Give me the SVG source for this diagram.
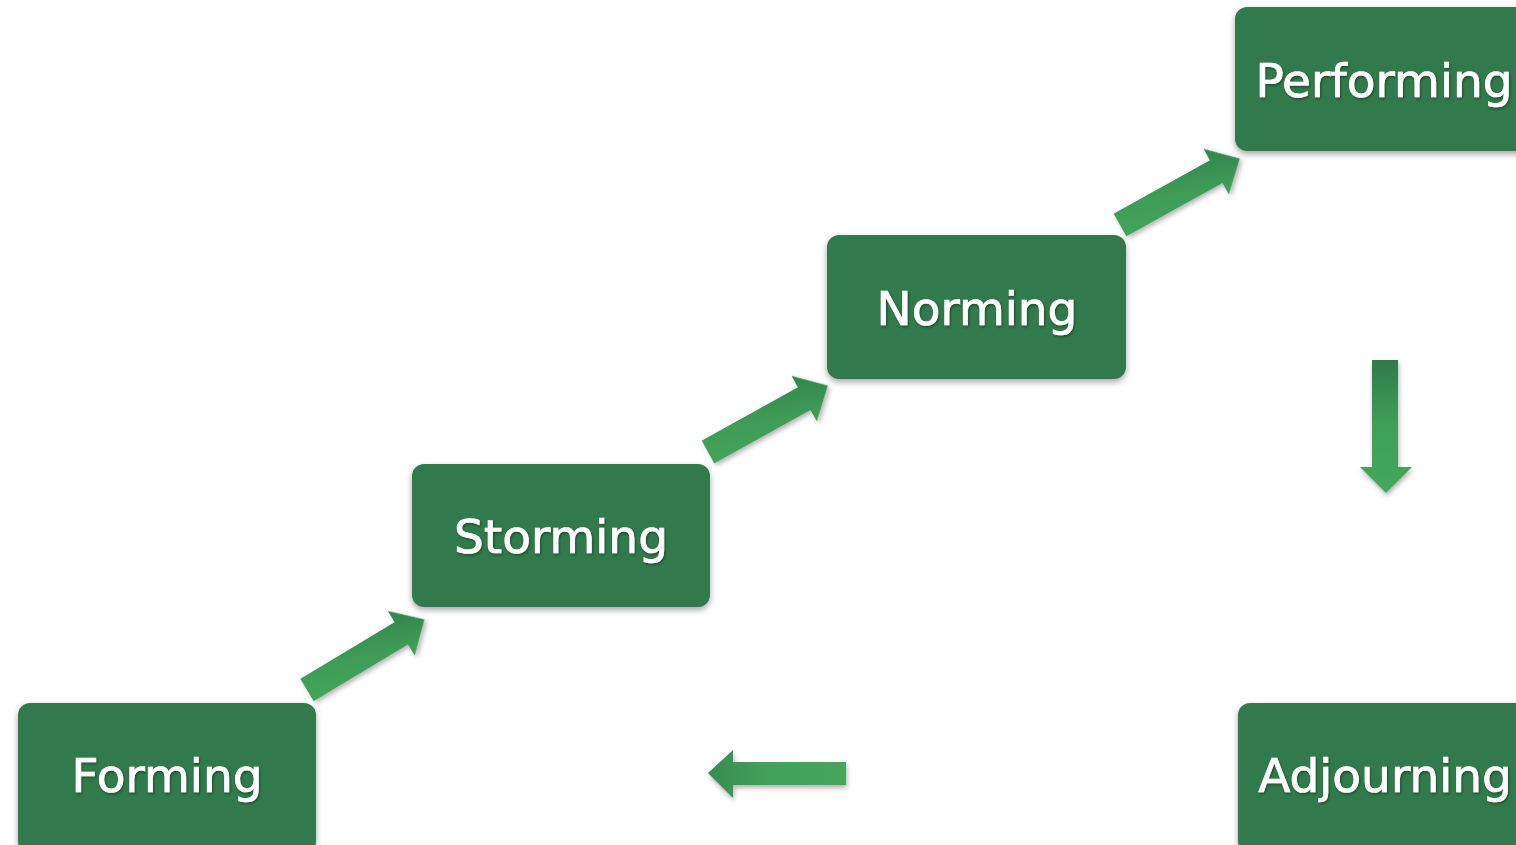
<svg xmlns="http://www.w3.org/2000/svg" width="1516" height="845" viewBox="0 0 1516 845">
  <defs>
    <filter id="shadow" x="-20%" y="-20%" width="140%" height="150%">
      <feDropShadow dx="0" dy="3" stdDeviation="3" flood-color="#000" flood-opacity="0.35"/>
    </filter>
    <filter id="ashadow" x="-30%" y="-30%" width="160%" height="170%">
      <feDropShadow dx="1" dy="3" stdDeviation="2.5" flood-color="#000" flood-opacity="0.3"/>
    </filter>
    <filter id="tshadow" x="-10%" y="-20%" width="120%" height="150%">
      <feDropShadow dx="1" dy="1.5" stdDeviation="0.8" flood-color="#0a2a14" flood-opacity="0.6"/>
    </filter>
    <linearGradient id="gDiag" x1="1" y1="0" x2="0" y2="1">
      <stop offset="0" stop-color="#2f7d4b"/>
      <stop offset="0.5" stop-color="#3f9b57"/>
      <stop offset="1" stop-color="#45a65c"/>
    </linearGradient>
    <linearGradient id="gDown" x1="0" y1="0" x2="0" y2="1">
      <stop offset="0" stop-color="#2f7a4a"/>
      <stop offset="0.5" stop-color="#40a058"/>
      <stop offset="1" stop-color="#45a65c"/>
    </linearGradient>
    <linearGradient id="gLeft" x1="0" y1="0" x2="1" y2="0">
      <stop offset="0" stop-color="#368c50"/>
      <stop offset="0.4" stop-color="#42a05a"/>
      <stop offset="1" stop-color="#45a65c"/>
    </linearGradient>
    <polygon id="diagArrow" points="0,-13 110,-13 110,-26 137,0 110,26 110,13 0,13"/>
  </defs>
  <style>
    .box { fill: #337a4e; filter: url(#shadow); }
    .lbl { fill: #ffffff; font-family: "DejaVu Sans", Verdana, sans-serif; font-size: 47px; text-anchor: middle; filter: url(#tshadow); stroke: #ffffff; stroke-width: 0.7; }
    .arr { filter: url(#ashadow); }
  </style>
  <rect width="1516" height="845" fill="#ffffff"/>

  <g id="connectors">
    <use href="#diagArrow" class="arr" fill="url(#gDiag)" transform="translate(307,690) rotate(-31)"/>
    <use href="#diagArrow" class="arr" fill="url(#gDiag)" transform="translate(708,452) rotate(-29)"/>
    <use href="#diagArrow" class="arr" fill="url(#gDiag)" transform="translate(1120,225) rotate(-29)"/>
    <polygon class="arr" fill="url(#gDown)" points="1372,360 1398,360 1398,467 1412,467 1386,493 1360,467 1372,467"/>
    <polygon class="arr" fill="url(#gLeft)" points="846,762 846,785 733,785 733,798 708,773 733,750 733,762"/>
  </g>

  <g id="node-forming">
    <rect class="box" x="18" y="703" width="298" height="150" rx="12"/>
    <text class="lbl" x="167" y="792">Forming</text>
  </g>
  <g id="node-storming">
    <rect class="box" x="412" y="464" width="298" height="143" rx="12"/>
    <text class="lbl" x="561" y="553">Storming</text>
  </g>
  <g id="node-norming">
    <rect class="box" x="827" y="235" width="299" height="144" rx="12"/>
    <text class="lbl" x="977" y="325">Norming</text>
  </g>
  <g id="node-performing">
    <rect class="box" x="1235" y="7" width="298" height="144" rx="12"/>
    <text class="lbl" x="1384" y="97">Performing</text>
  </g>
  <g id="node-adjourning">
    <rect class="box" x="1238" y="703" width="298" height="150" rx="12"/>
    <text class="lbl" x="1385" y="792">Adjourning</text>
  </g>
</svg>
